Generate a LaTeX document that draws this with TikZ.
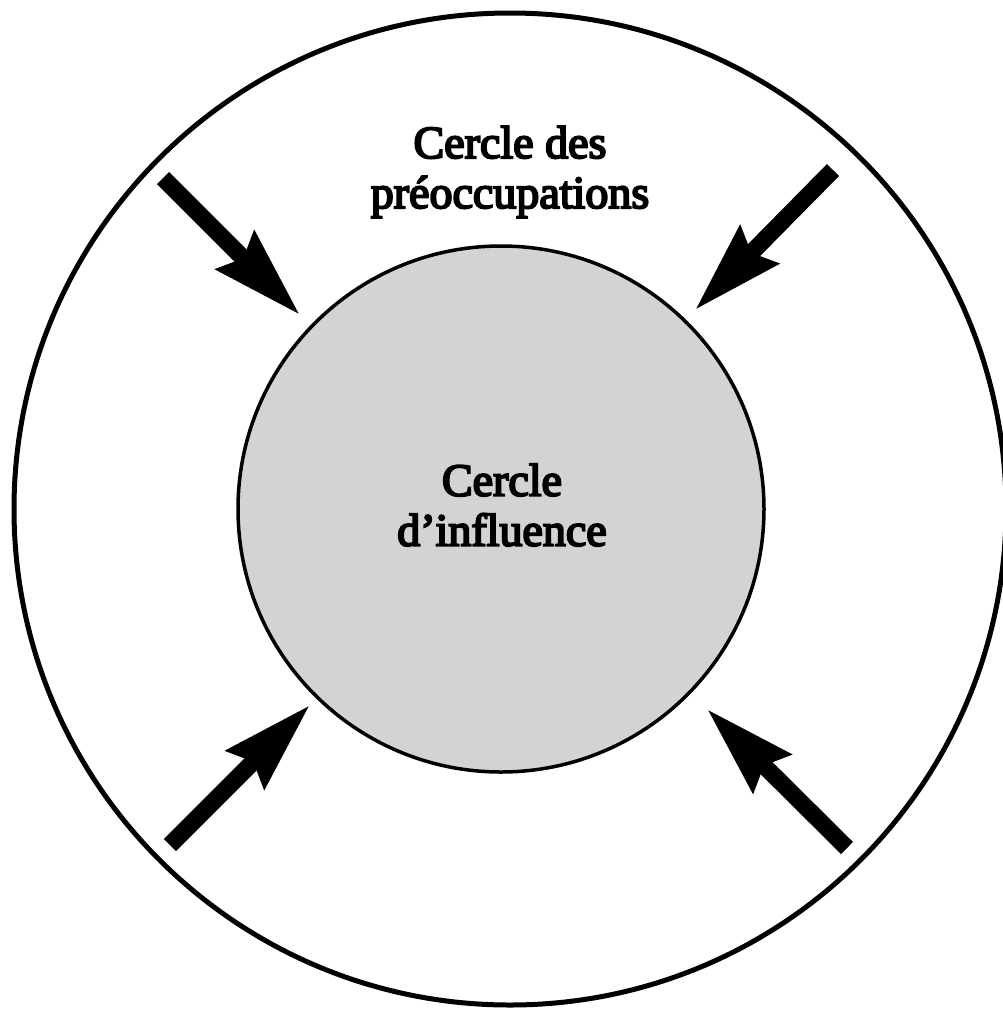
\documentclass[tikz,border=0pt]{standalone}
\usepackage{fontspec}
\setmainfont{Liberation Serif}
\usetikzlibrary{arrows.meta}
\definecolor{innergray}{RGB}{211,211,211}
\newcommand{\heavytext}[1]{\special{pdf:literal direct 2 Tr 2.0 w}#1\special{pdf:literal direct 0 Tr}}
\tikzset{
  outerring/.style={circle, draw=black, line width=5pt, minimum size=992pt, inner sep=0pt},
  innerdisc/.style={circle, draw=black, fill=innergray, line width=3.5pt, minimum size=526pt, inner sep=0pt},
  bigarrow/.style={line width=17pt, -{Stealth[length=90pt, width=52pt, inset=10pt]}},
  label/.style={align=center, font=\fontsize{46}{50}\selectfont, inner sep=0pt}
}
\begin{document}
\begin{tikzpicture}[x=1pt, y=-1pt]
  \useasboundingbox (0,0) rectangle (1002,1010);
  \node[outerring] (outer) at (510,509) {};
  \node[innerdisc] (inner) at (501,509) {};
  \node[label] (concern) at (510,172) {\heavytext{Cercle des}\\\heavytext{préoccupations}};
  \node[label] (influence) at (502,505) {\heavytext{Cercle}\\\heavytext{d’influence}};
  \coordinate (tlA) at (163,178);
  \coordinate (tlB) at (300,315);
  \coordinate (trA) at (833,170);
  \coordinate (trB) at (695,310);
  \coordinate (blA) at (170,845);
  \coordinate (blB) at (310,705);
  \coordinate (brA) at (847,848);
  \coordinate (brB) at (707,709);
  \draw[bigarrow] (tlA) -- (tlB);
  \draw[bigarrow] (trA) -- (trB);
  \draw[bigarrow] (blA) -- (blB);
  \draw[bigarrow] (brA) -- (brB);
\end{tikzpicture}
\end{document}
